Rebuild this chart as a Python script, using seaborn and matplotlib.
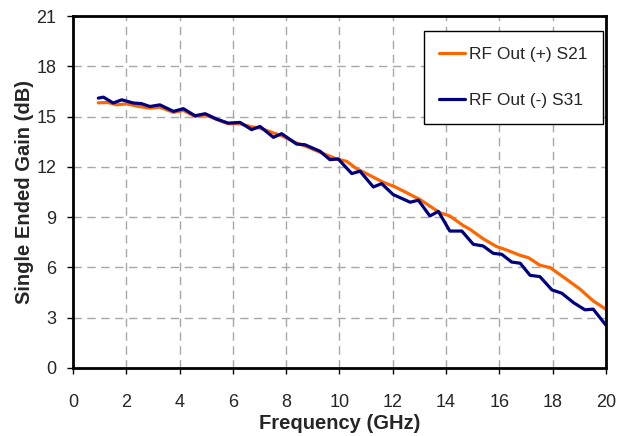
import pandas as pd
import seaborn as sns
import matplotlib.pyplot as plt

# ---------------- DATA ----------------
freq_s21 = [0.95, 1.31, 1.64, 2.02, 2.42, 2.89, 3.26, 3.77, 4.14, 4.58, 4.96, 5.35, 5.82,
            6.27, 6.66, 7.02, 7.47, 7.83, 8.39, 8.78, 9.27, 9.89, 10.27, 10.65, 10.96,
            11.64, 12.08, 12.65, 13.02, 13.77, 14.14, 14.64, 14.90, 15.39, 15.90,
            16.27, 16.78, 17.09, 17.52, 17.90, 18.52, 19.03, 19.52, 20.0]
gain_s21 = [15.82, 15.84, 15.70, 15.76, 15.62, 15.50, 15.56, 15.25, 15.37, 15.00, 15.10,
            14.85, 14.57, 14.57, 14.40, 14.31, 14.05, 13.86, 13.42, 13.20, 12.87, 12.47,
            12.33, 11.88, 11.64, 11.08, 10.81, 10.35, 10.05, 9.26, 9.07, 8.50, 8.27,
            7.71, 7.24, 7.04, 6.72, 6.58, 6.13, 5.99, 5.29, 4.70, 4.00, 3.50]

freq_s31 = [0.95, 1.14, 1.51, 1.83, 2.26, 2.57, 2.89, 3.26, 3.77, 4.14, 4.58, 4.96, 5.39,
            5.82, 6.27, 6.70, 7.02, 7.52, 7.83, 8.39, 8.70, 9.27, 9.64, 9.95, 10.46,
            10.77, 11.27, 11.58, 12.01, 12.65, 12.96, 13.39, 13.71, 14.14, 14.59, 15.02,
            15.39, 15.77, 16.09, 16.46, 16.78, 17.15, 17.52, 17.97, 18.34, 18.78, 19.21,
            19.52, 20.0]
gain_s31 = [16.10, 16.16, 15.81, 16.00, 15.81, 15.77, 15.60, 15.70, 15.31, 15.47, 15.05,
            15.17, 14.85, 14.61, 14.65, 14.22, 14.41, 13.76, 13.98, 13.36, 13.32, 12.93,
            12.43, 12.47, 11.60, 11.74, 10.80, 11.00, 10.35, 9.89, 10.01, 9.07, 9.34,
            8.17, 8.17, 7.38, 7.28, 6.84, 6.78, 6.32, 6.25, 5.53, 5.45, 4.66, 4.46,
            3.90, 3.47, 3.51, 2.55]

series_names = ["RF Out (+) S21", "RF Out (-) S31"]
series_colors = ["#FF6600", "#000080"]

x_ticks = list(range(0, 21, 2))
y_ticks = list(range(0, 22, 3))

df = pd.concat([
    pd.DataFrame({"freq": freq_s21, "gain": gain_s21, "series": series_names[0]}),
    pd.DataFrame({"freq": freq_s31, "gain": gain_s31, "series": series_names[1]}),
], ignore_index=True)

# ---------------- PLOT ----------------
sns.set_style("white")
plt.rcParams["font.family"] = ["Liberation Sans", "DejaVu Sans"]

fig = plt.figure(figsize=(6.18, 4.36), dpi=100)
ax = fig.add_axes([0.1181, 0.156, 0.8625, 0.8073])

sns.lineplot(data=df, x="freq", y="gain", hue="series", hue_order=series_names,
             palette=dict(zip(series_names, series_colors)), linewidth=2.3,
             solid_joinstyle="round", solid_capstyle="round",
             sort=True, estimator=None, ax=ax)

ax.set_xlim(0, 20)
ax.set_ylim(0, 21)
ax.set_xticks(x_ticks)
ax.set_yticks(y_ticks)
ax.tick_params(labelsize=13, length=4, width=1, direction="out", color="black",
               bottom=True, left=True)
ax.tick_params(axis="x", pad=15)
ax.tick_params(axis="y", pad=8)
ax.grid(True, color="#A8A8A8", linestyle=(0, (6, 4)), linewidth=1)
for s in ax.spines.values():
    s.set_color("black")
    s.set_linewidth(2)

ax.set_xlabel("Frequency (GHz)", fontsize=14.5, fontweight="bold", labelpad=2)
ax.set_ylabel("Single Ended Gain (dB)", fontsize=14.5, fontweight="bold", labelpad=2)

leg = ax.legend(loc="upper right", bbox_to_anchor=(0.994, 0.957), borderaxespad=0,
                fontsize=12.5, handlelength=1.5, handletextpad=0.2, labelspacing=1.8,
                borderpad=0.9, fancybox=False, framealpha=1, edgecolor="black",
                title=None)
leg.get_frame().set_linewidth(1)

fig.savefig("out.png", dpi=100)
